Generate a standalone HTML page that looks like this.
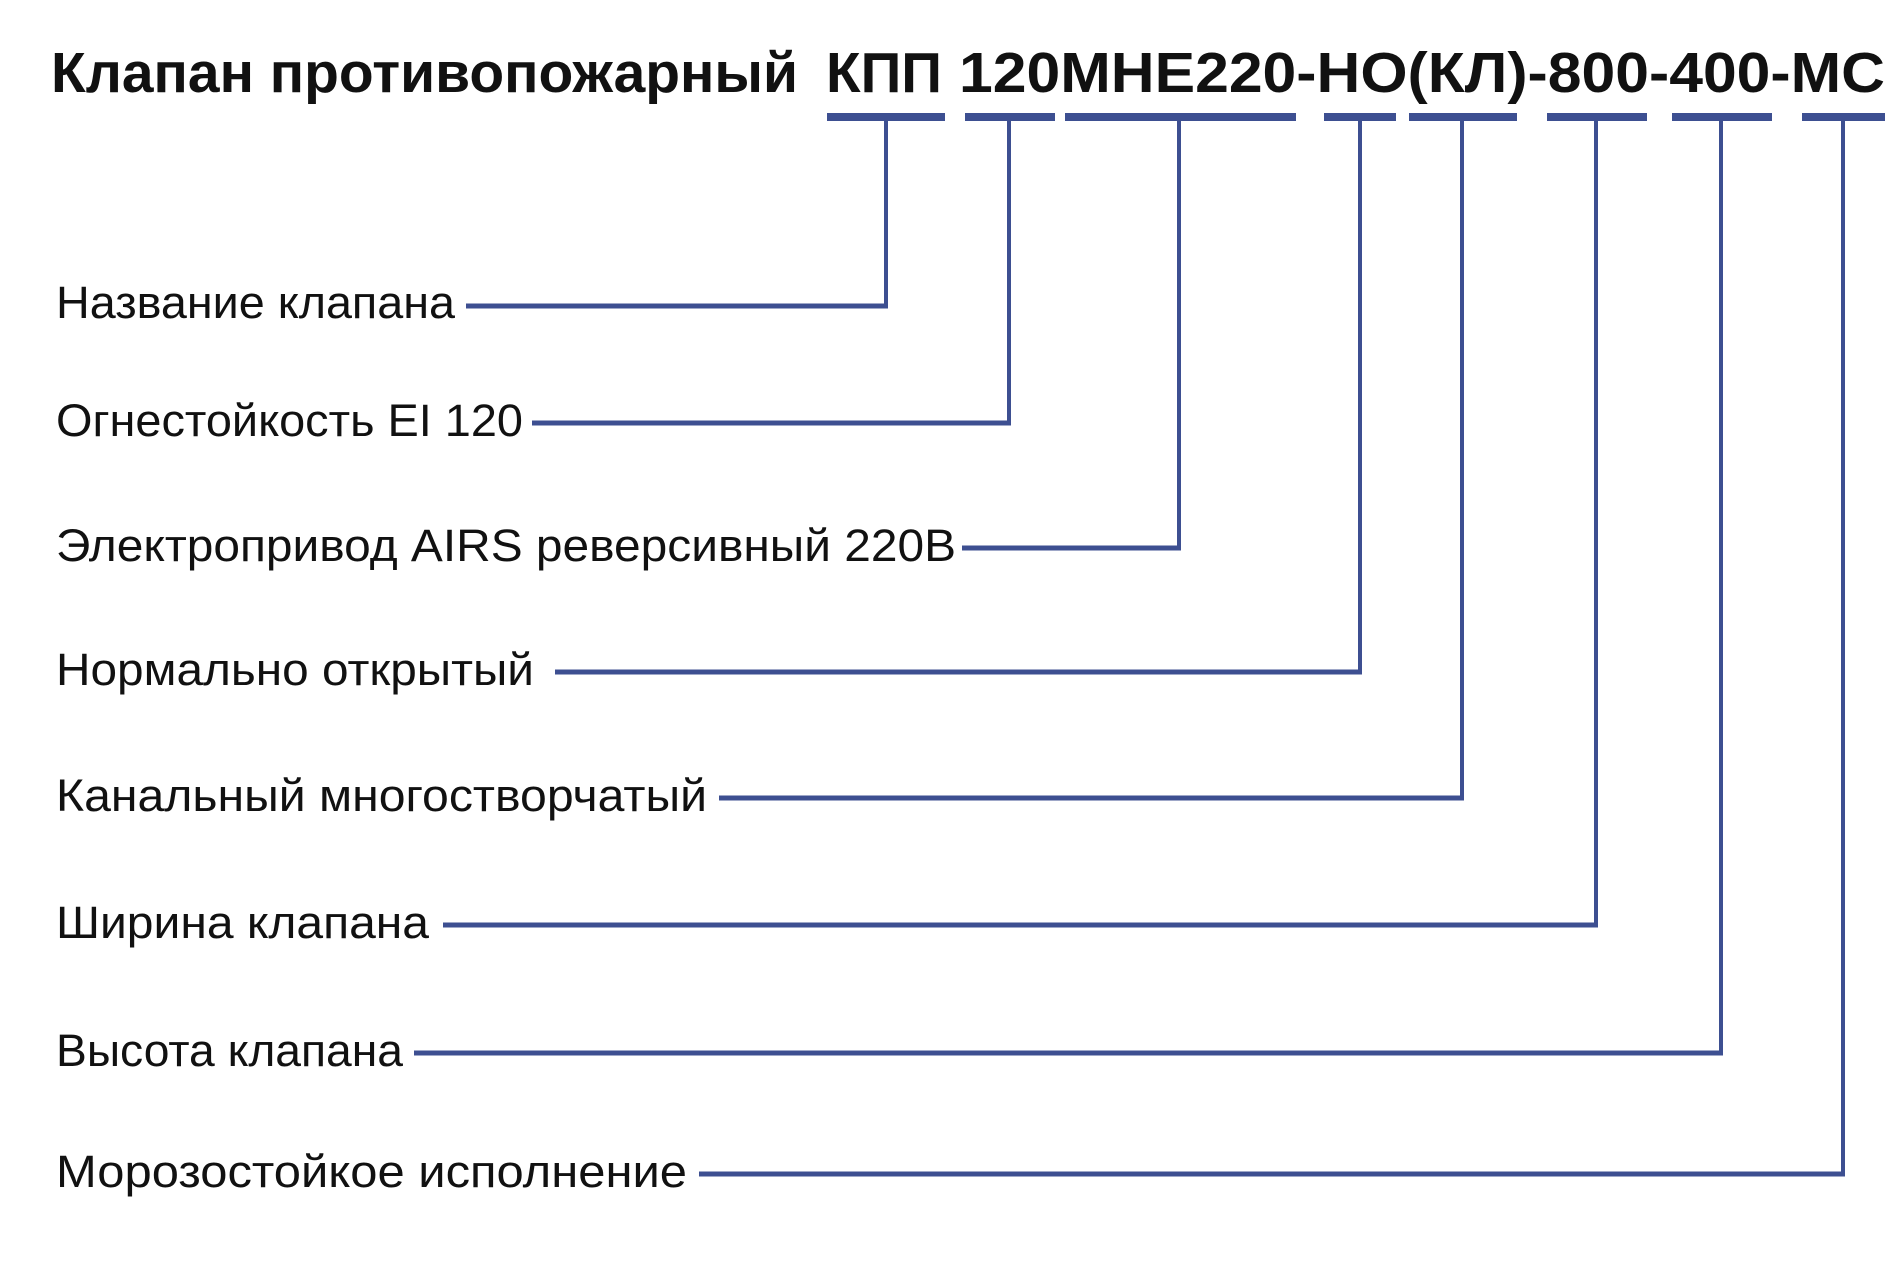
<!DOCTYPE html>
<html><head><meta charset="utf-8"><style>html,body{margin:0;padding:0;background:#fff}svg{display:block}</style></head>
<body>
<svg width="1904" height="1277" viewBox="0 0 1904 1277" xmlns="http://www.w3.org/2000/svg">
<g font-family="Liberation Sans, DejaVu Sans, sans-serif" fill="#111">
<g font-size="57" font-weight="bold">
<text x="51" y="92" textLength="747" lengthAdjust="spacingAndGlyphs">Клапан  противопожарный</text>
<text x="826" y="92" textLength="116" lengthAdjust="spacingAndGlyphs">КПП</text>
<text x="959" y="92" textLength="926" lengthAdjust="spacingAndGlyphs">120МНЕ220-НО(КЛ)-800-400-МС</text>
</g>
<g font-size="45">
<text x="56" y="318" textLength="399" lengthAdjust="spacingAndGlyphs">Название клапана</text>
<text x="56" y="436" textLength="467" lengthAdjust="spacingAndGlyphs">Огнестойкость EI 120</text>
<text x="56" y="561" textLength="900" lengthAdjust="spacingAndGlyphs">Электропривод AIRS реверсивный 220В</text>
<text x="56" y="685" textLength="478" lengthAdjust="spacingAndGlyphs">Нормально открытый</text>
<text x="56" y="811" textLength="651" lengthAdjust="spacingAndGlyphs">Канальный многостворчатый</text>
<text x="56" y="938" textLength="373" lengthAdjust="spacingAndGlyphs">Ширина клапана</text>
<text x="56" y="1066" textLength="347" lengthAdjust="spacingAndGlyphs">Высота клапана</text>
<text x="56" y="1187" textLength="631" lengthAdjust="spacingAndGlyphs">Морозостойкое исполнение</text>
</g>
</g>
<g fill="#3d4f91">
<rect x="827" y="113" width="118" height="8"/>
<rect x="965" y="113" width="90" height="8"/>
<rect x="1065" y="113" width="231" height="8"/>
<rect x="1324" y="113" width="72" height="8"/>
<rect x="1409" y="113" width="108" height="8"/>
<rect x="1547" y="113" width="100" height="8"/>
<rect x="1672" y="113" width="100" height="8"/>
<rect x="1802" y="113" width="83" height="8"/>
</g>
<g fill="none" stroke="#3d4f91" stroke-linejoin="miter">
<polyline stroke-width="4" points="886,121 886,306"/><polyline stroke-width="5" points="466,306 888,306"/>
<polyline stroke-width="4" points="1009,121 1009,423"/><polyline stroke-width="5" points="532,423 1011,423"/>
<polyline stroke-width="4" points="1179,121 1179,548"/><polyline stroke-width="5" points="962,548 1181,548"/>
<polyline stroke-width="4" points="1360,121 1360,672"/><polyline stroke-width="5" points="555,672 1362,672"/>
<polyline stroke-width="4" points="1462,121 1462,798"/><polyline stroke-width="5" points="719,798 1464,798"/>
<polyline stroke-width="4" points="1596,121 1596,925"/><polyline stroke-width="5" points="443,925 1598,925"/>
<polyline stroke-width="4" points="1721,121 1721,1053"/><polyline stroke-width="5" points="414,1053 1723,1053"/>
<polyline stroke-width="4" points="1843,121 1843,1174"/><polyline stroke-width="5" points="699,1174 1845,1174"/>
</g>
</svg>
</body></html>
